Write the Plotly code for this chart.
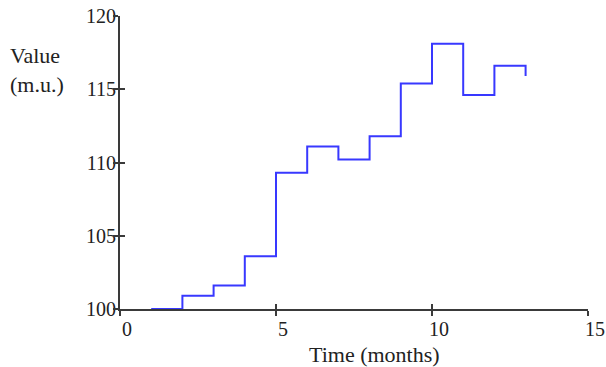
import plotly.graph_objects as go

months = [1, 2, 3, 4, 5, 6, 7, 8, 9, 10, 11, 12, 13]
values = [100.0, 100.9, 101.6, 103.6, 109.3, 111.1, 110.2, 111.8, 115.4, 118.1, 114.6, 116.6, 115.9]
x_ticks = [0, 5, 10, 15]
y_ticks = [100, 105, 110, 115, 120]

FONT = "Liberation Serif"
AX = "#3a3a3a"

fig = go.Figure()
fig.add_trace(go.Scatter(x=months, y=values, mode="lines", line=dict(shape="hv", color="#3838ff", width=2),
                         cliponaxis=False, showlegend=False, hoverinfo="skip"))
fig.add_trace(go.Scatter(x=[None], y=[None], xaxis="x2", yaxis="y2", showlegend=False))

common = dict(showgrid=False, zeroline=False, showline=True, linecolor=AX, linewidth=2,
              tickcolor=AX, tickwidth=2, ticklen=5, automargin=False)
fig.update_layout(
    width=606, height=367,
    margin=dict(l=120, r=18, t=16, b=58),
    plot_bgcolor="white", paper_bgcolor="white",
    font=dict(family=FONT, size=20, color="#222"),
    xaxis=dict(range=[0, 15], tickvals=x_ticks, ticks="inside", ticklabelshift=7, ticklabelstandoff=1, **common),
    yaxis=dict(range=[100, 120], tickvals=y_ticks, ticks="inside", ticklabelstandoff=-2, **common),
    xaxis2=dict(range=[0, 15], tickvals=x_ticks, ticks="outside", overlaying="x", anchor="y2",
                showticklabels=False, **common),
    yaxis2=dict(range=[100, 120], tickvals=y_ticks, ticks="outside", overlaying="y", anchor="x2",
                side="left", showticklabels=False, **common),
)
fig.add_annotation(text="Time (months)", xref="paper", yref="paper",
                   x=(374 - 120) / 468, y=(309 - 354) / 293, xanchor="center", yanchor="middle",
                   showarrow=False, font=dict(size=22))
fig.add_annotation(text="Value<br>(m.u.)", xref="paper", yref="paper", x=(8 - 120) / 468,
                   y=(309 - 70) / 293, xanchor="left", yanchor="middle", align="left",
                   showarrow=False, font=dict(size=22))

fig.write_html("out.html", config={"displayModeBar": False},
               post_script="document.body.style.margin='0';document.body.style.overflow='hidden';")
